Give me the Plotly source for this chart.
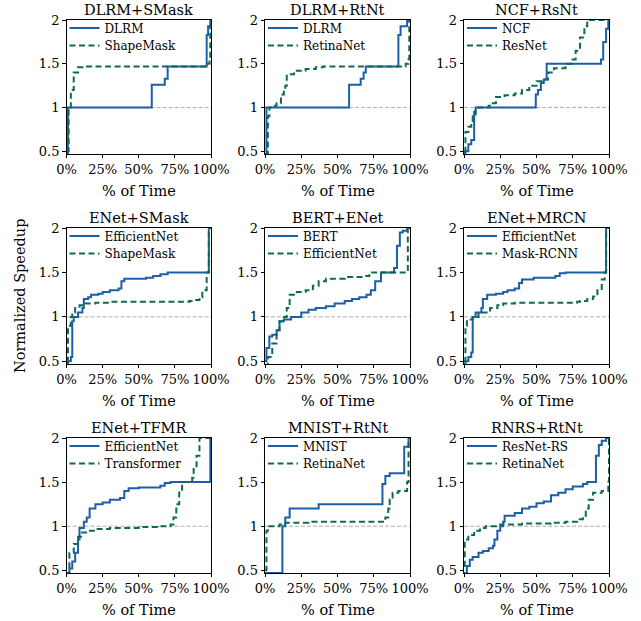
import plotly.graph_objects as go

# ---------------- data ----------------
titles = ["DLRM+SMask", "DLRM+RtNt", "NCF+RsNt",
          "ENet+SMask", "BERT+ENet", "ENet+MRCN",
          "ENet+TFMR", "MNIST+RtNt", "RNRS+RtNt"]
names_a = ["DLRM", "DLRM", "NCF", "EfficientNet", "BERT", "EfficientNet",
           "EfficientNet", "MNIST", "ResNet-RS"]
names_b = ["ShapeMask", "RetinaNet", "ResNet", "ShapeMask", "EfficientNet",
           "Mask-RCNN", "Transformer", "RetinaNet", "RetinaNet"]

# panel 1
p1_a_x = [0, 1, 59, 68, 70, 97, 98, 99.5, 100]
p1_a_y = [0.47, 1.0, 1.26, 1.33, 1.47, 1.83, 1.93, 2.0, 2.0]
p1_b_x = [0, 1.5, 3, 5, 8, 12, 96, 99, 99.5, 100]
p1_b_y = [0.5, 1.0, 1.2, 1.4, 1.46, 1.47, 1.5, 1.55, 1.93, 2.0]
# panel 2
p2_a_x = [0, 1, 58, 66, 68, 69.5, 92, 93.5, 98, 100]
p2_a_y = [0.47, 1.0, 1.26, 1.33, 1.4, 1.47, 1.83, 1.93, 2.0, 2.0]
p2_b_x = [0, 2, 3, 6, 8, 11, 13, 14, 15, 20, 28, 35, 40, 97, 99, 99.5, 100]
p2_b_y = [0.47, 0.9, 1.0, 1.02, 1.05, 1.15, 1.2, 1.25, 1.38, 1.42, 1.44, 1.46,
          1.47, 1.5, 1.55, 2.0, 2.0]
# panel 3
p3_a_x = [0, 1, 3, 5, 7, 8, 49.5, 51, 53, 55, 57, 94.5, 96, 98, 99.5, 100]
p3_a_y = [0.48, 0.5, 0.58, 0.63, 0.95, 1.0, 1.15, 1.2, 1.28, 1.32, 1.5, 1.55,
          1.75, 1.9, 2.0, 2.0]
p3_b_x = [0, 1, 3, 5, 6, 8, 17, 19, 22, 28, 35, 40, 45, 50, 56, 58, 62, 70,
          74, 77, 80, 83, 85, 100]
p3_b_y = [0.5, 0.72, 0.78, 0.8, 0.9, 1.0, 1.02, 1.05, 1.12, 1.14, 1.16, 1.2,
          1.25, 1.3, 1.32, 1.4, 1.45, 1.5, 1.55, 1.65, 1.8, 1.93, 2.0, 2.0]
# panel 4
p4_a_x = [0, 1, 3, 4, 5, 8, 11, 12, 15, 17, 22, 25, 30, 36, 38, 40, 55, 60,
          65, 70, 98.5, 100]
p4_a_y = [0.45, 0.5, 0.55, 0.95, 1.0, 1.05, 1.1, 1.2, 1.22, 1.25, 1.26, 1.28,
          1.3, 1.32, 1.4, 1.43, 1.44, 1.46, 1.48, 1.5, 2.0, 2.0]
p4_b_x = [0, 1, 3, 4, 6, 9, 13, 20, 30, 85, 88, 92, 94, 97, 98.5, 100]
p4_b_y = [0.5, 0.9, 1.0, 1.05, 1.1, 1.13, 1.15, 1.16, 1.17, 1.18, 1.19, 1.22,
          1.3, 1.5, 2.0, 2.0]
# panel 5
p5_a_x = [0, 1, 3, 5, 8, 10, 13, 18, 25, 30, 35, 42, 48, 55, 60, 65, 70, 73,
          76, 80, 89, 91, 93, 95, 98, 100]
p5_a_y = [0.5, 0.65, 0.78, 0.8, 0.85, 0.95, 0.97, 1.0, 1.05, 1.08, 1.1, 1.12,
          1.15, 1.18, 1.2, 1.22, 1.25, 1.3, 1.4, 1.5, 1.55, 1.8, 1.95, 1.97,
          2.0, 2.0]
p5_b_x = [0, 2, 5, 8, 10, 13, 15, 17, 22, 28, 33, 37, 42, 55, 68, 72, 98.5,
          100]
p5_b_y = [0.45, 0.55, 0.7, 0.85, 0.95, 1.0, 1.1, 1.25, 1.28, 1.3, 1.35, 1.4,
          1.43, 1.45, 1.46, 1.5, 2.0, 2.0]
# panel 6
p6_a_x = [0, 1, 3, 5, 6, 8, 12, 13, 16, 22, 27, 30, 35, 38, 40, 48, 63, 66,
          70, 98, 100]
p6_a_y = [0.47, 0.5, 0.55, 0.6, 1.0, 1.05, 1.1, 1.2, 1.25, 1.26, 1.28, 1.3,
          1.32, 1.38, 1.42, 1.44, 1.46, 1.49, 1.5, 2.0, 2.0]
p6_b_x = [0, 1, 2, 6, 10, 18, 23, 27, 35, 78, 80, 85, 89, 92, 95, 97, 98, 100]
p6_b_y = [0.5, 0.9, 0.97, 1.0, 1.05, 1.1, 1.13, 1.15, 1.16, 1.17, 1.18, 1.2,
          1.23, 1.3, 1.42, 1.5, 2.0, 2.0]
# panel 7
p7_a_x = [0, 2, 4, 6, 8, 9, 12, 14, 16, 20, 25, 30, 37, 40, 43, 50, 65, 68,
          72, 99.5, 100]
p7_a_y = [0.47, 0.52, 0.6, 0.7, 0.85, 0.98, 1.05, 1.1, 1.2, 1.25, 1.27, 1.3,
          1.32, 1.4, 1.43, 1.44, 1.46, 1.49, 1.5, 2.0, 2.0]
p7_b_x = [0, 2, 5, 8, 10, 15, 20, 30, 50, 65, 72, 74, 76, 78, 80, 87, 88, 90,
          92, 100]
p7_b_y = [0.45, 0.7, 0.8, 0.88, 0.93, 0.95, 0.97, 0.98, 0.99, 1.0, 1.02, 1.1,
          1.25, 1.4, 1.5, 1.55, 1.65, 1.8, 2.0, 2.0]
# panel 8
p8_a_x = [0, 12, 14, 17, 37, 81, 83, 86, 96, 99, 100]
p8_a_y = [0.47, 1.0, 1.1, 1.2, 1.25, 1.48, 1.57, 1.6, 1.9, 2.0, 2.0]
p8_b_x = [0, 1, 2, 10, 14, 30, 83, 85, 86, 88, 92, 98, 99, 100]
p8_b_y = [0.5, 0.95, 1.0, 1.02, 1.04, 1.05, 1.1, 1.2, 1.3, 1.38, 1.4, 1.5,
          2.0, 2.0]
# panel 9
p9_a_x = [0, 2, 4, 6, 10, 13, 17, 20, 21, 23, 25, 27, 28, 35, 40, 45, 50, 55,
          60, 65, 70, 75, 82, 85, 91, 93, 95, 98, 100]
p9_a_y = [0.47, 0.55, 0.62, 0.65, 0.7, 0.72, 0.75, 0.78, 0.85, 0.95, 1.0,
          1.05, 1.12, 1.15, 1.2, 1.22, 1.26, 1.28, 1.35, 1.38, 1.42, 1.45,
          1.48, 1.5, 1.8, 1.92, 1.97, 2.0, 2.0]
p9_b_x = [0, 0.5, 3, 7, 11, 15, 25, 40, 60, 70, 78, 82, 84, 86, 89, 95, 99.5,
          100]
p9_b_y = [0.55, 0.85, 0.9, 0.95, 0.98, 1.0, 1.02, 1.03, 1.04, 1.05, 1.08,
          1.12, 1.2, 1.3, 1.38, 1.4, 1.5, 2.0]

series_a = [(p1_a_x, p1_a_y), (p2_a_x, p2_a_y), (p3_a_x, p3_a_y),
            (p4_a_x, p4_a_y), (p5_a_x, p5_a_y), (p6_a_x, p6_a_y),
            (p7_a_x, p7_a_y), (p8_a_x, p8_a_y), (p9_a_x, p9_a_y)]
series_b = [(p1_b_x, p1_b_y), (p2_b_x, p2_b_y), (p3_b_x, p3_b_y),
            (p4_b_x, p4_b_y), (p5_b_x, p5_b_y), (p6_b_x, p6_b_y),
            (p7_b_x, p7_b_y), (p8_b_x, p8_b_y), (p9_b_x, p9_b_y)]

x_tickvals = [0, 25, 50, 75, 100]
x_ticktext = ["0%", "25%", "50%", "75%", "100%"]
y_tickvals = [0.5, 1, 1.5, 2]
y_ticktext = ["0.5", "1", "1.5", "2"]

# ---------------- layout ----------------
W, H = 641, 621
BLUE = "#1c5ea8"
GREEN = "#0e6b52"
FONT = "DejaVu Serif, Liberation Serif, serif"
col_px = [(66.5, 211), (265, 410), (464, 609)]
row_px = [(20, 154), (228, 364), (438, 573)]


def px(x):
    return x / W


def py(y):
    return 1 - y / H


fig = go.Figure()
layout = dict(
    width=W, height=H, margin=dict(l=0, r=0, t=0, b=0, autoexpand=False),
    paper_bgcolor="white", plot_bgcolor="white",
    font=dict(family=FONT, size=13, color="black"),
    annotations=[], shapes=[],
)

LEG_OFF = 16  # distance from legend top to centre of its single entry
for i in range(9):
    r, c = divmod(i, 3)
    x0, x1 = col_px[c]
    y0, y1 = row_px[r]
    sfx = "" if i == 0 else str(i + 1)
    xa, ya = "x" + sfx, "y" + sfx
    leg_a = "legend" + str(2 * i + 2)
    leg_b = "legend" + str(2 * i + 3)

    ax = dict(domain=[px(x0), px(x1)], anchor=ya, range=[0, 100],
              tickvals=x_tickvals, ticktext=x_ticktext, ticks="outside",
              ticklen=3.5, tickwidth=0.8, tickcolor="black", showline=True,
              linecolor="black", linewidth=0.8, mirror=True, showgrid=False,
              zeroline=False, tickangle=0, automargin=False,
              tickfont=dict(size=13, family=FONT))
    ay = dict(domain=[py(y1), py(y0)], anchor=xa, range=[0.47, 2.0],
              tickvals=y_tickvals, ticktext=y_ticktext, ticks="outside",
              ticklen=3.5, tickwidth=0.8, tickcolor="black", showline=True,
              linecolor="black", linewidth=0.8, mirror=True, showgrid=False,
              zeroline=False, automargin=False,
              tickfont=dict(size=13, family=FONT))
    layout["xaxis" + sfx] = ax
    layout["yaxis" + sfx] = ay

    layout["shapes"].append(dict(type="line", xref=xa + " domain", yref=ya,
                                 x0=0, x1=1, y0=1, y1=1, layer="below",
                                 line=dict(color="#999999", width=0.8,
                                           dash="4px,2px")))

    ax_, ay_ = series_a[i]
    bx_, by_ = series_b[i]
    fig.add_trace(go.Scatter(x=ax_, y=ay_, mode="lines", name=names_a[i],
                             line=dict(color=BLUE, width=2, shape="hv"),
                             xaxis=xa, yaxis=ya, legend=leg_a))
    fig.add_trace(go.Scatter(x=bx_, y=by_, mode="lines", name=names_b[i],
                             line=dict(color=GREEN, width=2, shape="hv",
                                       dash="6px,3.5px"),
                             xaxis=xa, yaxis=ya, legend=leg_b))

    for leg, yc in ((leg_a, y0 + 9.5), (leg_b, y0 + 27)):
        layout[leg] = dict(x=px(x0 - 2), y=py(yc - LEG_OFF), xanchor="left",
                           yanchor="top", bgcolor="rgba(0,0,0,0)",
                           borderwidth=0, font=dict(size=12, family=FONT),
                           itemwidth=30)

    layout["annotations"].append(dict(
        text=titles[i], xref="paper", yref="paper", x=px((x0 + x1) / 2),
        y=py(y0 - 10), xanchor="center", yanchor="middle",
        showarrow=False, font=dict(size=14.5, family=FONT)))
    layout["annotations"].append(dict(
        text="% of Time", xref="paper", yref="paper", x=px((x0 + x1) / 2),
        y=py(y1 + 37), xanchor="center", yanchor="middle",
        showarrow=False, font=dict(size=14.5, family=FONT)))

layout["annotations"].append(dict(
    text="Normalized Speedup", xref="paper", yref="paper", x=px(20),
    y=py(296), xanchor="center", yanchor="middle", textangle=-90,
    showarrow=False, font=dict(size=14.5, family=FONT)))

fig.update_layout(**layout)
fig.write_html(
    "out.html",
    config={"displayModeBar": False},
    post_script="document.body.style.margin='0';"
                "document.body.style.overflow='hidden';")
